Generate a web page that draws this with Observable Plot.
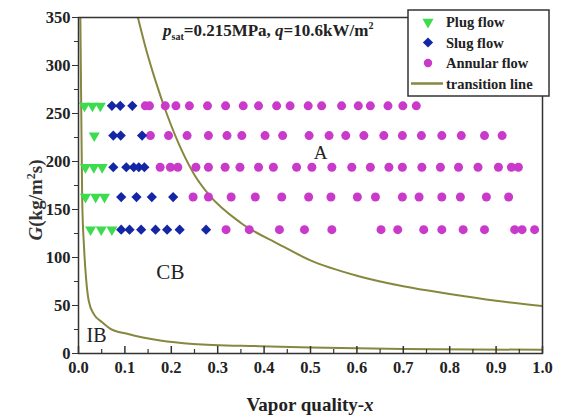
<!DOCTYPE html>
<html>
<head>
<meta charset="utf-8">
<script src="https://cdn.jsdelivr.net/npm/d3@7"></script>
<script src="https://cdn.jsdelivr.net/npm/@observablehq/plot@0.6"></script>
<style>
  html, body { margin: 0; padding: 0; background: #fff; }
  #chart { width: 566px; height: 417px; }
</style>
</head>
<body>
<div id="chart"></div>
<script>
// Mass flux levels of the test rows, kg/(m² s)
const massFlux = [258, 227, 194, 163, 129];

// Vapor quality of each observation, one list per mass-flux row
const plugX = [
  [0.013, 0.030, 0.047],
  [0.034],
  [0.015, 0.033, 0.051],
  [0.015, 0.037, 0.056],
  [0.026, 0.049, 0.072]
];
const slugX = [
  [0.072, 0.090, 0.116],
  [0.075, 0.091, 0.137],
  [0.075, 0.103, 0.119, 0.130, 0.142],
  [0.092, 0.125, 0.158, 0.204],
  [0.092, 0.110, 0.135, 0.166, 0.191, 0.218, 0.275]
];
const annularX = [
  [0.144, 0.153, 0.187, 0.210, 0.239, 0.278, 0.317, 0.355, 0.388, 0.427, 0.456, 0.495, 0.524, 0.567, 0.603, 0.629, 0.667, 0.699, 0.728],
  [0.155, 0.194, 0.234, 0.280, 0.320, 0.352, 0.402, 0.440, 0.497, 0.540, 0.576, 0.615, 0.658, 0.698, 0.739, 0.783, 0.825, 0.875, 0.913],
  [0.176, 0.198, 0.214, 0.253, 0.280, 0.316, 0.348, 0.388, 0.420, 0.470, 0.503, 0.546, 0.589, 0.629, 0.669, 0.698, 0.740, 0.780, 0.819, 0.861, 0.905, 0.933, 0.948],
  [0.247, 0.280, 0.329, 0.381, 0.438, 0.496, 0.544, 0.601, 0.640, 0.698, 0.734, 0.783, 0.823, 0.879, 0.927],
  [0.318, 0.368, 0.433, 0.487, 0.546, 0.652, 0.688, 0.744, 0.783, 0.829, 0.875, 0.940, 0.956, 0.983]
];

// Transition lines (vapor quality, mass flux)
const transitionAX = [0.128, 0.145, 0.166, 0.190, 0.223, 0.250, 0.280, 0.350, 0.431, 0.500, 0.600, 0.700, 0.800, 0.900, 1.000];
const transitionAG = [350, 318, 284, 250, 211, 186, 166, 136, 114, 97, 81, 70, 62, 55, 49.5];
const transitionIBX = [0.004, 0.006, 0.008, 0.012, 0.016, 0.022, 0.033, 0.051, 0.069, 0.105, 0.176, 0.247, 0.391, 0.500, 0.700, 1.000];
const transitionIBG = [350, 250, 160, 110, 80, 55, 41, 32.6, 25.7, 20.5, 13.5, 10, 7.6, 6.2, 4.8, 3.8];

// Regime labels
const regionNames = ["A", "CB", "IB"];
const regionX = [0.522, 0.198, 0.039];
const regionG = [209, 85, 19];
const regionSize = [19, 21, 20];

// Axis ticks
const xTicks = d3.range(0, 11).map(i => i / 10);
const xMinorTicks = d3.range(0, 10).map(i => i / 10 + 0.05);
const yTicks = d3.range(0, 351, 50);
const yMinorTicks = d3.range(25, 350, 50);

const colors = {
  plug: "#3ddc4e",
  slug: "#1426a6",
  annular: "#c93acb",
  line: "#87873f",
  frame: "#333333"
};

// Build point tables from the row lists
function toPoints(rows) {
  return rows.flatMap((xs, i) => xs.map(x => ({x, G: massFlux[i]})));
}
const plugPts = toPoints(plugX);
const slugPts = toPoints(slugX);
const annularPts = toPoints(annularX);
const lineA = transitionAX.map((x, i) => ({x, G: transitionAG[i]}));
const lineIB = transitionIBX.map((x, i) => ({x, G: transitionIBG[i]}));
const regions = regionNames.map((name, i) => ({name, x: regionX[i], G: regionG[i], size: regionSize[i]}));

// Downward-pointing triangle symbol
const triangleDown = {
  draw(context, size) {
    const a = Math.sqrt(size * 4 / Math.sqrt(3));
    const h = a * Math.sqrt(3) / 2;
    context.moveTo(0, h * 2 / 3);
    context.lineTo(-a / 2, -h / 3);
    context.lineTo(a / 2, -h / 3);
    context.closePath();
  }
};

const W = 566, H = 417;
const mTop = 17, mBottom = 64, mLeft = 78, mRight = 24;
const innerH = H - mTop - mBottom;

const chart = Plot.plot({
  width: W,
  height: H,
  marginTop: mTop,
  marginBottom: mBottom,
  marginLeft: mLeft,
  marginRight: mRight,
  style: {fontFamily: "'Liberation Serif', 'DejaVu Serif', serif", fontSize: "16px", fontWeight: "bold", color: "#222", background: "#fff"},
  x: {domain: [0, 1]},
  y: {domain: [0, 350]},
  marks: [
    Plot.line(lineA, {x: "x", y: "G", stroke: colors.line, strokeWidth: 2, curve: "monotone-x", clip: true}),
    Plot.line(lineIB, {x: "x", y: "G", stroke: colors.line, strokeWidth: 2, curve: "monotone-x", clip: true}),
    Plot.dot(annularPts, {x: "x", y: "G", r: 4.5, fill: colors.annular, symbol: "circle"}),
    Plot.dot(slugPts, {x: "x", y: "G", r: 4.6, fill: colors.slug, symbol: "diamond2"}),
    Plot.dot(plugPts, {x: "x", y: "G", r: 4.1, fill: colors.plug, symbol: triangleDown}),
    Plot.text(regions, {x: "x", y: "G", text: "name", fontSize: "size", fontWeight: "normal", fill: "#222"}),
    Plot.frame({stroke: colors.frame, strokeWidth: 1.5}),
    // x ticks point into the frame
    Plot.tickX(xTicks, {x: d => d, stroke: colors.frame, strokeWidth: 1.5, insetTop: innerH - 7}),
    Plot.tickX(xMinorTicks, {x: d => d, stroke: colors.frame, strokeWidth: 1.2, insetTop: innerH - 4}),
    Plot.axisX({ticks: xTicks, tickSize: 0, tickPadding: 8, tickFormat: ".1f", label: null, fontSize: 16.5}),
    Plot.axisY({ticks: yTicks, tickSize: 6, tickPadding: 2, label: null, stroke: colors.frame, fontSize: 16.5}),
    Plot.axisY({ticks: yMinorTicks, tickSize: 4, text: null, label: null, stroke: colors.frame})
  ]
});
document.getElementById("chart").appendChild(chart);

const svg = d3.select(chart);
const serif = "'Liberation Serif', 'DejaVu Serif', serif";

// Axis titles
const xTitle = svg.append("text")
  .attr("x", (mLeft + W - mRight) / 2).attr("y", 411)
  .attr("text-anchor", "middle")
  .attr("font-family", serif).attr("font-size", 19).attr("font-weight", "bold").attr("fill", "#222");
xTitle.append("tspan").text("Vapor quality-");
xTitle.append("tspan").attr("font-style", "italic").text("x");

const yTitle = svg.append("text")
  .attr("transform", "translate(42,200) rotate(-90)")
  .attr("text-anchor", "middle")
  .attr("font-family", serif).attr("font-size", 19).attr("font-weight", "bold").attr("fill", "#333");
yTitle.append("tspan").attr("font-style", "italic").text("G");
yTitle.append("tspan").text("(kg/m");
yTitle.append("tspan").attr("font-size", 12).attr("dy", -7).text("2");
yTitle.append("tspan").attr("dy", 7).text("s)");

// Operating conditions
const cond = svg.append("text")
  .attr("x", 163).attr("y", 36)
  .attr("text-anchor", "start")
  .attr("font-family", serif).attr("font-size", 17).attr("font-weight", "bold").attr("fill", "#222");
cond.append("tspan").attr("font-style", "italic").text("p");
cond.append("tspan").attr("font-size", 10).attr("dy", 4).text("sat");
cond.append("tspan").attr("dy", -4).text("=0.215MPa, ");
cond.append("tspan").attr("font-style", "italic").text("q");
cond.append("tspan").text("=10.6kW/m");
cond.append("tspan").attr("font-size", 10).attr("dy", -7).text("2");

// Legend
const legend = svg.append("g").attr("transform", "translate(408,10)");
legend.append("rect").attr("width", 141).attr("height", 86)
  .attr("fill", "#fff").attr("stroke", colors.frame).attr("stroke-width", 1.5);
const entries = [
  {label: "Plug flow", kind: "plug"},
  {label: "Slug flow", kind: "slug"},
  {label: "Annular flow", kind: "annular"},
  {label: "transition line", kind: "line"}
];
entries.forEach((e, i) => {
  const cy = 12 + i * 20.5;
  const g = legend.append("g").attr("transform", `translate(0,${cy})`);
  if (e.kind === "line") {
    g.append("line").attr("x1", 3).attr("x2", 35).attr("y1", 0).attr("y2", 0)
      .attr("stroke", colors.line).attr("stroke-width", 2.5);
  } else {
    const sym = e.kind === "plug" ? triangleDown : e.kind === "slug" ? d3.symbolDiamond2 : d3.symbolCircle;
    const r = e.kind === "plug" ? 4.1 : e.kind === "slug" ? 4.6 : 4.2;
    g.append("path").attr("transform", "translate(20,0)")
      .attr("d", d3.symbol(sym, r * r * Math.PI)())
      .attr("fill", colors[e.kind]);
  }
  g.append("text").attr("x", 38).attr("y", 0).attr("dy", "0.35em")
    .attr("text-anchor", "start")
    .attr("font-family", serif).attr("font-size", 14.5).attr("font-weight", "bold").attr("fill", "#222")
    .text(e.label);
});
</script>
</body>
</html>
